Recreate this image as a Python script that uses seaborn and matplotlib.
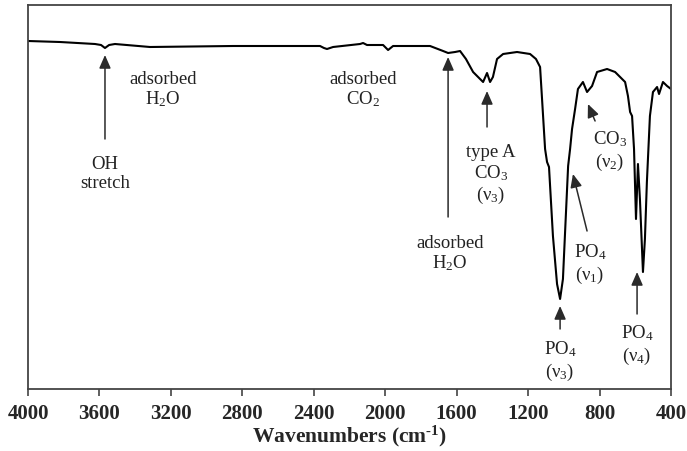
import matplotlib
matplotlib.use("Agg")
import matplotlib.pyplot as plt
import seaborn as sns
import pandas as pd

# ---- data ----
wavenumber = [4000, 3821, 3625, 3591, 3569, 3546, 3513, 3317, 2852, 2365, 2343, 2326,
              2292, 2141, 2124, 2102, 2012, 1984, 1956, 1749, 1676, 1648, 1609, 1581,
              1548, 1508, 1469, 1452, 1430, 1413, 1397, 1374, 1340, 1262, 1189, 1156,
              1133, 1122, 1105, 1094, 1083, 1061, 1038, 1021, 1005, 993, 976, 965, 954,
              937, 921, 893, 870, 842, 814, 758, 713, 685, 657, 641, 629, 618, 607, 596,
              585, 574, 557, 546, 535, 518, 501, 478, 467, 445, 422, 400]
transmittance = [348, 347, 345, 344, 341, 344, 345, 342, 343, 343, 341, 340,
                 342, 345, 346, 344, 344, 339, 343, 343, 338, 336, 337, 338,
                 330, 317, 310, 307, 316, 307, 312, 330, 335, 337, 335, 330,
                 322, 290, 240, 227, 222, 153, 105, 90, 110, 157, 223, 240, 260,
                 280, 300, 307, 297, 303, 317, 320, 317, 312, 307, 293, 277, 273, 240, 170,
                 225, 190, 117, 150, 207, 273, 297, 302, 295, 307, 303, 300]

xticks = [4000, 3600, 3200, 2800, 2400, 2000, 1600, 1200, 800, 400]

# annotation labels: (text, x, y)
labels = [
    ("OH\nstretch", 3569, 216),
    ("adsorbed\nH$_2$O", 3244, 300),
    ("adsorbed\nCO$_2$", 2124, 300),
    ("adsorbed\nH$_2$O", 1637, 136),
    ("type A\nCO$_3$\n(ν$_3$)", 1408, 215),
    ("PO$_4$\n(ν$_3$)", 1021, 29),
    ("PO$_4$\n(ν$_1$)", 853, 126),
    ("CO$_3$\n(ν$_2$)", 741, 239),
    ("PO$_4$\n(ν$_4$)", 590, 45),
]
# arrows: (tip_x, tip_y, tail_x, tail_y)
arrows = [
    (3569, 334, 3569, 250),
    (1648, 332, 1648, 172),
    (1430, 298, 1430, 262),
    (1021, 83, 1021, 60),
    (949, 215, 870, 158),
    (865, 285, 825, 268),
    (590, 117, 590, 75),
]

df = pd.DataFrame({"wn": wavenumber, "T": transmittance})

sns.set_theme(style="white")
plt.rcParams["font.family"] = ["Liberation Serif", "DejaVu Serif"]
plt.rcParams["mathtext.fontset"] = "custom"
plt.rcParams["mathtext.rm"] = "Liberation Serif"
plt.rcParams["mathtext.it"] = "Liberation Serif:italic"
plt.rcParams["mathtext.bf"] = "Liberation Serif:bold"

fig = plt.figure(figsize=(6.87, 4.52), dpi=100)
ax = fig.add_axes([28 / 687, 1 - 390 / 452, 643 / 687, 384 / 452])

sns.lineplot(data=df, x="wn", y="T", ax=ax, color="black", linewidth=1.5,
             estimator=None, sort=False)

ax.set_xlim(4000, 400)
ax.set_ylim(0, 384)
ax.set_xticks(xticks)
ax.set_xticklabels([str(t) for t in xticks], fontsize=15, fontweight="bold")
ax.set_yticks([])
ax.set_ylabel("")
ax.set_xlabel("Wavenumbers (cm$^{\\mathbf{\\text{-}1}}$)", fontsize=15.5, fontweight="bold",
              labelpad=0)
ax.tick_params(axis="x", direction="out", length=5, width=1.2, color="#444444",
               bottom=True, pad=5)
for s in ax.spines.values():
    s.set_color("#444444")
    s.set_linewidth(1.3)

for txt, x, y in labels:
    ax.text(x, y, txt, ha="center", va="center", fontsize=13.5, color="#222222",
            linespacing=1.15)

for tx, ty, sx, sy in arrows:
    ax.annotate("", xy=(tx, ty), xytext=(sx, sy),
                arrowprops=dict(arrowstyle="-|>,head_length=0.8,head_width=0.35",
                                mutation_scale=10, color="#2a2a2a", lw=1.1,
                                shrinkA=0, shrinkB=0))

fig.savefig("out.png", dpi=100)
